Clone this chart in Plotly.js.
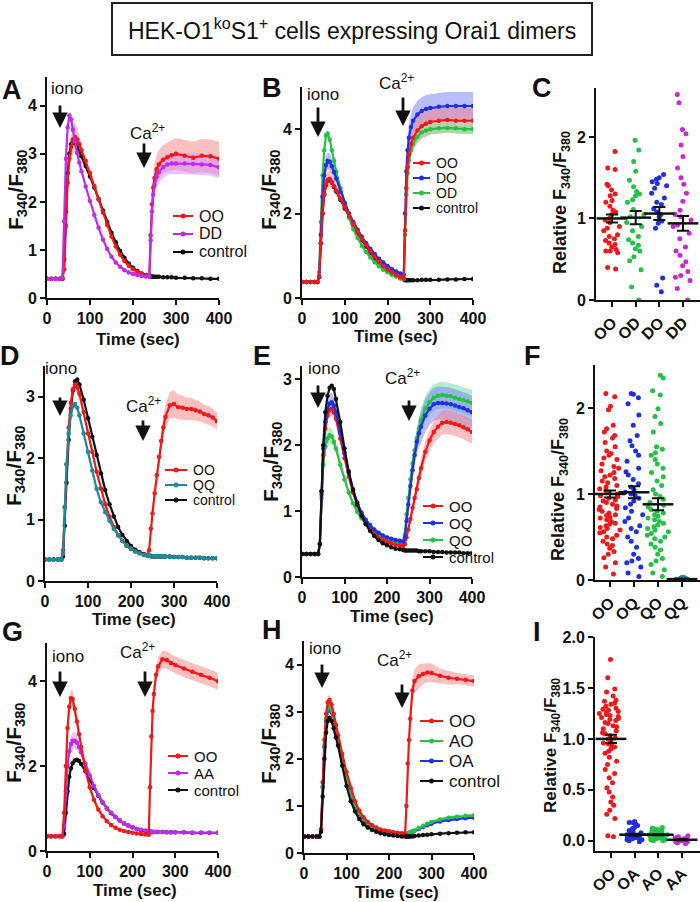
<!DOCTYPE html>
<html><head><meta charset="utf-8">
<script src="https://cdn.plot.ly/plotly-3.0.1.min.js"></script>
<style>html,body{margin:0;padding:0;background:#fff}#chart{width:700px;height:902px}</style>
</head><body><div id="chart"></div>
<script>
// ---------- DATA ----------
const timeTicks = [0, 100, 200, 300, 400];
const time1 = [0,10,20,30,36,40,44,48,52,56,60,65,70,75,80,90,100,110,120,130,140,150,160,170,180,190,200,210,220,230,238,241,244,247,250,255,260,270,280,290,300,320,340,360,380,400];
const time2 = [0,10,20,30,38,42,46,50,55,60,65,70,75,80,90,100,110,120,130,140,150,160,170,180,190,200,210,220,230,238,242,246,250,255,260,265,270,275,280,290,300,310,320,330,340,350,360,370,380,390,400];

// Panel A
const A_OO = [0.4,0.4,0.4,0.4,0.4, 0.6,1.5,2.4,2.9,3.15,3.3,3.35,3.3,3.2,3.08, 2.85,2.6,2.33,2.05,1.78,1.52,1.28,1.07,0.9,0.77,0.67,0.6,0.54,0.5,0.47,0.45, 1.3,1.95,2.3,2.5,2.68,2.78,2.88,2.93,2.97,3.0,2.96,2.92,2.96,2.95,2.9];
const A_OO_err = [0,0,0,0,0, 0.05,0.1,0.15,0.2,0.25,0.3,0.3,0.25,0.2,0.12, 0.1,0.08,0.07,0.06,0.05,0.04,0.03,0.03,0.02,0.02,0.02,0.02,0.02,0.02,0.02,0.02, 0.3,0.3,0.3,0.3,0.3,0.3,0.3,0.3,0.32,0.33,0.33,0.33,0.35,0.35,0.35];
const A_DD = [0.4,0.4,0.4,0.4,0.42, 1.6,2.9,3.55,3.8,3.72,3.5,3.25,3.02,2.82,2.64, 2.32,2.02,1.73,1.46,1.22,1.02,0.86,0.74,0.65,0.58,0.53,0.5,0.48,0.46,0.45,0.45, 1.2,1.8,2.15,2.35,2.52,2.62,2.72,2.78,2.8,2.8,2.8,2.79,2.78,2.77,2.72];
const A_DD_err = [0,0,0,0,0, 0.05,0.1,0.1,0.1,0.1,0.08,0.07,0.06,0.05,0.05, 0.04,0.03,0.03,0.02,0.02,0.02,0.02,0.02,0.02,0.02,0.02,0.02,0.02,0.02,0.02,0.02, 0.2,0.2,0.2,0.22,0.22,0.22,0.22,0.22,0.22,0.22,0.22,0.22,0.22,0.22,0.22];
const A_ctrl = [0.4,0.4,0.4,0.4,0.4, 0.8,1.8,2.6,3.0,3.2,3.25,3.22,3.15,3.05,2.95, 2.75,2.53,2.3,2.06,1.82,1.58,1.36,1.16,0.98,0.84,0.72,0.63,0.56,0.51,0.48,0.46, 0.45,0.45,0.44,0.44,0.44,0.44,0.43,0.43,0.43,0.42,0.42,0.41,0.41,0.4,0.4];

// Panel B
const B_OO = [0.38,0.38,0.38,0.38,0.38, 0.5,1.3,2.0,2.45,2.7,2.8,2.82,2.75,2.65,2.55, 2.35,2.15,1.95,1.75,1.57,1.4,1.25,1.1,0.97,0.86,0.76,0.68,0.61,0.55,0.5,0.47, 1.6,2.6,3.1,3.4,3.65,3.8,3.97,4.07,4.13,4.17,4.2,4.22,4.2,4.2,4.2];
const B_OO_err = [0,0,0,0,0, 0.02,0.08,0.12,0.15,0.18,0.2,0.2,0.18,0.15,0.13, 0.1,0.08,0.07,0.06,0.05,0.05,0.04,0.04,0.03,0.03,0.03,0.03,0.03,0.03,0.03,0.03, 0.2,0.25,0.25,0.28,0.28,0.3,0.3,0.3,0.3,0.3,0.3,0.3,0.3,0.3,0.3];
const B_DO = [0.38,0.38,0.38,0.38,0.38, 0.5,1.5,2.4,2.9,3.15,3.25,3.22,3.12,2.98,2.83, 2.52,2.25,2.0,1.8,1.62,1.45,1.3,1.16,1.04,0.93,0.84,0.76,0.69,0.63,0.58,0.55, 2.0,3.0,3.5,3.8,4.05,4.2,4.35,4.43,4.48,4.5,4.53,4.55,4.55,4.55,4.55];
const B_DO_err = [0,0,0,0,0, 0.02,0.1,0.15,0.18,0.2,0.2,0.2,0.18,0.15,0.13, 0.1,0.09,0.08,0.07,0.06,0.05,0.05,0.04,0.04,0.04,0.03,0.03,0.03,0.03,0.03,0.03, 0.25,0.3,0.3,0.32,0.32,0.32,0.33,0.33,0.33,0.33,0.33,0.33,0.33,0.33,0.33];
const B_OD = [0.38,0.38,0.38,0.38,0.38, 0.6,1.8,2.9,3.5,3.85,3.9,3.75,3.5,3.25,3.0, 2.6,2.22,1.9,1.63,1.42,1.24,1.09,0.96,0.85,0.75,0.67,0.61,0.55,0.51,0.47,0.45, 1.5,2.45,2.95,3.25,3.5,3.65,3.82,3.92,3.97,4.0,4.02,4.03,4.02,4.0,4.0];
const B_OD_err = [0,0,0,0,0, 0.02,0.05,0.08,0.08,0.08,0.08,0.08,0.07,0.06,0.05, 0.05,0.04,0.04,0.03,0.03,0.03,0.03,0.02,0.02,0.02,0.02,0.02,0.02,0.02,0.02,0.02, 0.1,0.12,0.12,0.12,0.12,0.12,0.12,0.12,0.12,0.12,0.12,0.12,0.12,0.12,0.12];
const B_ctrl = [0.38,0.38,0.38,0.38,0.38, 0.5,1.3,2.0,2.45,2.68,2.78,2.8,2.73,2.63,2.53, 2.32,2.12,1.92,1.72,1.54,1.37,1.22,1.07,0.94,0.83,0.73,0.65,0.58,0.52,0.47,0.44, 0.42,0.42,0.42,0.42,0.42,0.42,0.42,0.43,0.43,0.43,0.43,0.44,0.44,0.45,0.45];

// Panel C
const catsC = ['OO', 'OD', 'DO', 'DD'];
const C_OO = [1.82,1.62,1.6,1.42,1.4,1.35,1.3,1.28,1.22,1.2,1.15,1.1,1.08,1.05,1.0,0.98,0.95,0.9,0.88,0.85,0.8,0.78,0.75,0.73,0.7,0.68,0.65,0.62,0.6,0.6,0.58,0.4,0.38];
const C_OD = [1.96,1.84,1.7,1.58,1.47,1.39,1.33,1.3,1.28,1.23,1.2,1.11,1.05,1.02,0.95,0.9,0.85,0.78,0.74,0.7,0.67,0.63,0.6,0.53,0.48,0.37,0.16,0.0];
const C_DO = [1.54,1.5,1.48,1.45,1.43,1.4,1.37,1.31,1.25,1.2,1.17,1.12,1.08,1.05,1.02,0.97,0.94,0.88,0.27,0.18,0.1];
const C_DD = [2.52,2.42,2.09,2.04,1.9,1.76,1.62,1.5,1.42,1.31,1.21,1.1,1.05,1.02,0.98,0.92,0.9,0.82,0.75,0.65,0.6,0.55,0.47,0.42,0.35,0.3,0.28,0.24,0.14,0.0];
const C_mean = [1.0, 1.01, 1.06, 0.94];
const C_sem = [0.05, 0.08, 0.08, 0.09];

// Panel D
const D_OO = [0.35,0.35,0.35,0.35,0.35, 0.5,1.2,1.9,2.5,2.9,3.12,3.2,3.15,3.05, 2.75,2.4,2.1,1.78,1.5,1.25,1.05,0.88,0.75,0.65,0.57,0.52,0.48,0.45,0.43, 0.42, 0.5,0.85,1.1,1.43,1.72,2.02,2.28,2.5,2.67, 2.86,2.88,2.83,2.82,2.8,2.8,2.78,2.76,2.72,2.7,2.66,2.6];
const D_OO_err = [0,0,0,0,0, 0.02,0.05,0.08,0.1,0.1,0.1,0.1,0.1,0.08, 0.07,0.06,0.05,0.05,0.04,0.03,0.03,0.03,0.02,0.02,0.02,0.02,0.02,0.02,0.02, 0.02, 0.05,0.08,0.1,0.12,0.13,0.15,0.16,0.18,0.2, 0.22,0.22,0.2,0.2,0.18,0.18,0.17,0.16,0.15,0.15,0.14,0.14];
const D_QQ = [0.35,0.35,0.35,0.35,0.35, 0.45,1.2,1.9,2.4,2.7,2.85,2.88,2.82,2.7, 2.4,2.1,1.8,1.5,1.28,1.12,0.98,0.85,0.74,0.65,0.58,0.53,0.48,0.45,0.42, 0.41, 0.41,0.4,0.4,0.4,0.4,0.4,0.4,0.4,0.4, 0.39,0.39,0.39,0.39,0.38,0.38,0.38,0.38,0.37,0.37,0.37,0.37];
const D_ctrl = [0.35,0.35,0.35,0.35,0.35, 0.4,0.9,1.6,2.3,2.8,3.1,3.25,3.28,3.2, 2.95,2.65,2.35,2.05,1.75,1.48,1.25,1.05,0.88,0.75,0.65,0.57,0.51,0.47,0.44, 0.42, 0.41,0.41,0.4,0.4,0.4,0.4,0.4,0.4,0.4, 0.4,0.39,0.39,0.39,0.38,0.38,0.38,0.38,0.37,0.37,0.37,0.37];

// Panel E
const E_OO = [0.35,0.35,0.35,0.35,0.35, 0.5,1.25,1.85,2.25,2.45,2.53,2.55,2.5,2.4, 2.1,1.8,1.52,1.28,1.09,0.94,0.82,0.73,0.66,0.6,0.56,0.53,0.51,0.49,0.48, 0.47, 0.5,0.6,0.72,0.88,1.05,1.2,1.33,1.5,1.65, 1.9,2.07,2.2,2.28,2.34,2.35,2.34,2.32,2.3,2.27,2.24,2.2];
const E_OO_err = [0,0,0,0,0, 0.02,0.05,0.08,0.1,0.1,0.1,0.1,0.08,0.07, 0.06,0.05,0.04,0.04,0.03,0.03,0.03,0.03,0.02,0.02,0.02,0.02,0.02,0.02,0.02, 0.02, 0.03,0.05,0.07,0.08,0.1,0.1,0.12,0.13,0.14, 0.15,0.16,0.17,0.18,0.18,0.18,0.18,0.18,0.18,0.18,0.18,0.18];
const E_OQ = [0.35,0.35,0.35,0.35,0.35, 0.5,1.3,1.95,2.35,2.55,2.63,2.65,2.6,2.5, 2.2,1.88,1.58,1.33,1.13,0.98,0.87,0.79,0.72,0.67,0.63,0.6,0.58,0.56,0.55, 0.54, 0.6,0.85,1.1,1.38,1.62,1.85,2.05,2.18,2.28, 2.45,2.55,2.62,2.64,2.64,2.63,2.62,2.6,2.58,2.56,2.53,2.5];
const E_OQ_err = [0,0,0,0,0, 0.02,0.06,0.1,0.12,0.14,0.15,0.15,0.12,0.1, 0.08,0.06,0.05,0.04,0.04,0.03,0.03,0.03,0.03,0.03,0.03,0.03,0.03,0.03,0.03, 0.03, 0.05,0.08,0.1,0.12,0.15,0.18,0.2,0.22,0.23, 0.25,0.25,0.25,0.25,0.25,0.25,0.25,0.25,0.25,0.25,0.25,0.25];
const E_QO = [0.35,0.35,0.35,0.35,0.35, 0.5,1.2,1.7,1.98,2.1,2.15,2.13,2.05,1.95, 1.7,1.48,1.28,1.12,0.99,0.89,0.81,0.74,0.69,0.64,0.6,0.57,0.55,0.53,0.52, 0.52, 0.65,0.95,1.2,1.48,1.72,1.92,2.1,2.25,2.38, 2.55,2.65,2.72,2.75,2.76,2.75,2.74,2.72,2.7,2.68,2.66,2.64];
const E_QO_err = [0,0,0,0,0, 0.02,0.05,0.08,0.1,0.12,0.12,0.12,0.1,0.08, 0.06,0.05,0.04,0.04,0.03,0.03,0.03,0.03,0.03,0.03,0.03,0.03,0.03,0.03,0.03, 0.03, 0.05,0.08,0.1,0.12,0.14,0.15,0.16,0.17,0.18, 0.2,0.2,0.2,0.2,0.2,0.2,0.2,0.2,0.2,0.2,0.2,0.2];
const E_ctrl = [0.35,0.35,0.35,0.35,0.35, 0.5,1.3,2.0,2.5,2.75,2.87,2.9,2.85,2.7, 2.35,1.95,1.6,1.32,1.1,0.93,0.8,0.7,0.62,0.56,0.51,0.48,0.45,0.43,0.42, 0.41, 0.4,0.4,0.4,0.4,0.4,0.4,0.4,0.39,0.39, 0.39,0.39,0.38,0.38,0.38,0.37,0.37,0.37,0.37,0.36,0.36,0.36];

// Panel F
const catsF = ['OO', 'OQ', 'QO', 'QQ'];
const F_OO = [2.17,2.13,2.02,1.98,1.8,1.76,1.72,1.68,1.65,1.6,1.55,1.5,1.47,1.45,1.42,1.4,1.35,1.32,1.3,1.27,1.25,1.22,1.2,1.18,1.15,1.13,1.1,1.08,1.06,1.04,1.02,1.0,0.98,0.97,0.95,0.93,0.92,0.9,0.88,0.86,0.85,0.83,0.82,0.8,0.78,0.76,0.75,0.73,0.72,0.7,0.68,0.66,0.65,0.63,0.61,0.6,0.58,0.56,0.55,0.52,0.5,0.48,0.45,0.42,0.4,0.37,0.33,0.3,0.26,0.2,0.15,0.07];
const F_OQ = [2.17,2.16,2.12,2.05,1.92,1.8,1.68,1.62,1.56,1.5,1.45,1.38,1.3,1.26,1.22,1.17,1.12,1.08,1.05,1.02,1.0,0.98,0.95,0.92,0.88,0.84,0.8,0.76,0.72,0.68,0.63,0.6,0.56,0.5,0.45,0.38,0.3,0.25,0.22,0.2,0.15,0.08,0.04];
const F_QO = [2.38,2.35,2.2,2.15,1.99,1.9,1.82,1.72,1.55,1.52,1.48,1.45,1.4,1.35,1.3,1.25,1.2,1.15,1.1,1.05,1.0,0.97,0.94,0.9,0.87,0.85,0.82,0.8,0.78,0.76,0.74,0.72,0.7,0.68,0.66,0.64,0.62,0.6,0.58,0.56,0.54,0.52,0.5,0.48,0.45,0.42,0.38,0.35,0.3,0.25,0.22,0.18,0.12,0.08,0.04];
const F_QQ = [0.03,0.02,0.01,0.0,0.02,0.01,0.0,0.03];
const F_mean = [1.0, 1.02, 0.88, 0.01];
const F_sem = [0.04, 0.07, 0.07, 0.005];

// Panel G
const G_OO = [0.35,0.35,0.35,0.35,0.35, 0.9,2.0,2.9,3.4,3.6,3.58,3.35,3.05,2.75,2.45, 1.9,1.5,1.2,0.98,0.82,0.7,0.61,0.55,0.5,0.47,0.45,0.43,0.41,0.4,0.39,0.38, 1.5,2.7,3.3,3.7,4.15,4.35,4.52,4.5,4.43,4.38,4.3,4.22,4.15,4.08,4.0];
const G_OO_err = [0,0,0,0,0, 0.05,0.1,0.15,0.18,0.2,0.2,0.18,0.15,0.12,0.1, 0.08,0.06,0.05,0.04,0.03,0.03,0.02,0.02,0.02,0.02,0.02,0.02,0.02,0.02,0.02,0.02, 0.1,0.15,0.15,0.18,0.18,0.2,0.2,0.2,0.2,0.2,0.2,0.2,0.2,0.2,0.2];
const G_AA = [0.35,0.35,0.35,0.35,0.35, 0.6,1.4,2.0,2.35,2.52,2.6,2.6,2.55,2.45,2.32, 2.05,1.78,1.53,1.32,1.15,1.01,0.9,0.8,0.72,0.66,0.6,0.56,0.52,0.5,0.48,0.46, 0.46,0.46,0.45,0.45,0.45,0.45,0.45,0.44,0.44,0.44,0.44,0.43,0.43,0.43,0.43];
const G_AA_err = [0,0,0,0,0, 0.05,0.1,0.15,0.18,0.2,0.2,0.2,0.18,0.15,0.12, 0.1,0.08,0.06,0.05,0.04,0.03,0.03,0.02,0.02,0.02,0.02,0.02,0.02,0.02,0.02,0.02, 0.02,0.02,0.02,0.02,0.02,0.02,0.02,0.02,0.02,0.02,0.02,0.02,0.02,0.02,0.02];
const G_ctrl = [0.35,0.35,0.35,0.35,0.35, 0.4,0.9,1.4,1.75,1.95,2.07,2.13,2.15,2.12,2.05, 1.88,1.68,1.48,1.3,1.14,1.0,0.89,0.8,0.72,0.65,0.6,0.56,0.52,0.49,0.47,0.46, 0.45,0.45,0.45,0.45,0.45,0.45,0.45,0.44,0.44,0.44,0.44,0.43,0.43,0.43,0.43];

// Panel H
const H_OO = [0.35,0.35,0.35,0.35,0.35, 0.5,1.5,2.4,2.95,3.2,3.25,3.15,2.95,2.72,2.5, 2.1,1.72,1.38,1.1,0.9,0.76,0.66,0.59,0.54,0.5,0.48,0.46,0.44,0.43,0.42,0.41, 1.0,1.9,2.4,2.85,3.45,3.65,3.75,3.8,3.83,3.82,3.76,3.72,3.7,3.68,3.65];
const H_OO_err = [0,0,0,0,0, 0.02,0.05,0.08,0.1,0.12,0.12,0.1,0.08,0.07,0.06, 0.05,0.04,0.03,0.03,0.02,0.02,0.02,0.02,0.02,0.02,0.02,0.02,0.02,0.02,0.02,0.02, 0.1,0.15,0.2,0.22,0.25,0.25,0.25,0.22,0.2,0.2,0.15,0.15,0.12,0.12,0.12];
const H_AO = [0.35,0.35,0.35,0.35,0.35, 0.5,1.4,2.3,2.85,3.08,3.12,3.02,2.82,2.6,2.38, 1.98,1.6,1.28,1.03,0.85,0.72,0.63,0.56,0.51,0.48,0.46,0.44,0.42,0.41,0.4,0.4, 0.41,0.42,0.43,0.44,0.46,0.48,0.53,0.58,0.62,0.66,0.71,0.75,0.77,0.79,0.8];
const H_AO_err = [0,0,0,0,0, 0.02,0.04,0.05,0.05,0.05,0.05,0.05,0.05,0.04,0.04, 0.03,0.03,0.03,0.03,0.03,0.03,0.03,0.03,0.03,0.03,0.03,0.03,0.03,0.03,0.03,0.03, 0.02,0.02,0.02,0.02,0.03,0.03,0.03,0.03,0.04,0.04,0.04,0.04,0.04,0.04,0.04];
const H_OA = [0.35,0.35,0.35,0.35,0.35, 0.5,1.4,2.25,2.8,3.02,3.05,2.98,2.78,2.56,2.34, 1.94,1.57,1.26,1.01,0.83,0.7,0.61,0.55,0.5,0.47,0.45,0.43,0.42,0.41,0.4,0.4, 0.4,0.41,0.42,0.43,0.45,0.47,0.51,0.55,0.59,0.62,0.67,0.7,0.72,0.74,0.75];
const H_ctrl = [0.35,0.35,0.35,0.35,0.35, 0.45,1.2,2.0,2.55,2.8,2.87,2.8,2.65,2.45,2.28, 1.85,1.42,1.1,0.88,0.72,0.61,0.54,0.49,0.45,0.42,0.4,0.38,0.37,0.36,0.35,0.35, 0.35,0.35,0.35,0.35,0.35,0.36,0.37,0.38,0.39,0.4,0.41,0.42,0.43,0.44,0.44];

// Panel I
const catsI = ['OO', 'OA', 'AO', 'AA'];
const I_OO = [1.78,1.6,1.49,1.46,1.42,1.38,1.37,1.35,1.34,1.32,1.3,1.29,1.28,1.27,1.26,1.25,1.24,1.23,1.22,1.21,1.2,1.19,1.18,1.16,1.15,1.13,1.12,1.1,1.08,1.06,1.05,1.03,1.01,1.0,0.98,0.96,0.95,0.93,0.92,0.9,0.88,0.86,0.82,0.78,0.75,0.7,0.66,0.62,0.57,0.52,0.48,0.43,0.38,0.35,0.3,0.26,0.22,0.05,0.04];
const I_OA = [0.19,0.18,0.18,0.17,0.15,0.13,0.12,0.1,0.09,0.08,0.07,0.06,0.06,0.05,0.05,0.04,0.04,0.03,0.03,0.02,0.02,0.01,0.01,0.0,-0.01];
const I_AO = [0.13,0.12,0.12,0.11,0.1,0.1,0.09,0.09,0.08,0.08,0.07,0.07,0.07,0.06,0.06,0.06,0.05,0.05,0.05,0.04,0.04,0.04,0.03,0.03,0.03,0.02,0.02,0.01,0.01,0.0,0.0];
const I_AA = [0.05,0.04,0.03,0.03,0.02,0.02,0.01,0.01,0.01,0.0,0.0,0.0,-0.01,-0.01,-0.02,-0.03];
const I_mean = [1.0, 0.06, 0.06, 0.01];
const I_sem = [0.04, 0.01, 0.005, 0.005];

const legendA = ['OO', 'DD', 'control'];
const legendB = ['OO', 'DO', 'OD', 'control'];
const legendD = ['OO', 'QQ', 'control'];
const legendE = ['OO', 'OQ', 'QO', 'control'];
const legendG = ['OO', 'AA', 'control'];
const legendH = ['OO', 'AO', 'OA', 'control'];

// ---------- STYLE ----------
const W = 700, H = 902;
const px = v => v / W, py = v => 1 - v / H;
const FONT = 'Liberation Sans, Arial, sans-serif';
const RED = '#f01818', RED_B = 'rgba(246,130,130,0.5)';
const PUR = '#bb2cf0', PUR_B = 'rgba(210,140,250,0.5)';
const BLUE = '#2030e0', BLUE_B = 'rgba(125,135,250,0.55)';
const GREEN = '#25c045', GREEN_B = 'rgba(100,225,150,0.5)';
const TEAL = '#1b8a9a', BLACK = '#111', MAG = '#c82ad2';

const data = [];
const s = n => (n === 1 ? '' : String(n));
function band(n, t, y, e, fill) {
  const ax = {xaxis: 'x' + s(n), yaxis: 'y' + s(n), hoverinfo: 'skip', showlegend: false, mode: 'lines'};
  data.push(Object.assign({type: 'scatter', x: t, y: y.map((v, i) => v + e[i]), line: {width: 0, color: fill}}, ax));
  data.push(Object.assign({type: 'scatter', x: t, y: y.map((v, i) => v - e[i]), line: {width: 0, color: fill}, fill: 'tonexty', fillcolor: fill}, ax));
}
function curve(n, t, y, color) {
  data.push({type: 'scatter', x: t, y: y, xaxis: 'x' + s(n), yaxis: 'y' + s(n), mode: 'lines+markers',
    line: {color: color, width: 2.2}, marker: {color: color, size: 4.5}, hoverinfo: 'skip', showlegend: false});
}
function dots(n, i, vals, color, width) {
  data.push({type: 'box', x0: i, y: vals, xaxis: 'x' + s(n), yaxis: 'y' + s(n), boxpoints: 'all', jitter: 1, pointpos: 0,
    width: width, fillcolor: 'rgba(0,0,0,0)', line: {width: 0, color: 'rgba(0,0,0,0)'},
    marker: {color: color, size: 5}, hoverinfo: 'skip', showlegend: false});
}
function meanbar(n, cats, means, sems) {
  data.push({type: 'scatter', x: cats.map((c, i) => i), y: means, xaxis: 'x' + s(n), yaxis: 'y' + s(n), mode: 'markers',
    marker: {symbol: 'line-ew', size: 22, color: BLACK, line: {width: 2.5, color: BLACK}},
    error_y: {type: 'data', array: sems, visible: true, color: BLACK, thickness: 2, width: 6},
    hoverinfo: 'skip', showlegend: false});
}

// A
band(1, time1, A_OO, A_OO_err, RED_B); band(1, time1, A_DD, A_DD_err, PUR_B);
curve(1, time1, A_ctrl, BLACK); curve(1, time1, A_OO, RED); curve(1, time1, A_DD, PUR);
// B
band(2, time1, B_DO, B_DO_err, BLUE_B); band(2, time1, B_OO, B_OO_err, RED_B); band(2, time1, B_OD, B_OD_err, GREEN_B);
curve(2, time1, B_ctrl, BLACK); curve(2, time1, B_OD, GREEN); curve(2, time1, B_DO, BLUE); curve(2, time1, B_OO, RED);
// C
dots(3, 0, C_OO, RED, 0.85); dots(3, 1, C_OD, GREEN, 0.85); dots(3, 2, C_DO, BLUE, 0.8); dots(3, 3, C_DD, MAG, 0.85);
meanbar(3, catsC, C_mean, C_sem);
// D
band(4, time2, D_OO, D_OO_err, RED_B);
curve(4, time2, D_ctrl, BLACK); curve(4, time2, D_OO, RED); curve(4, time2, D_QQ, TEAL);
// E
band(5, time2, E_QO, E_QO_err, GREEN_B); band(5, time2, E_OQ, E_OQ_err, BLUE_B); band(5, time2, E_OO, E_OO_err, RED_B);
curve(5, time2, E_QO, GREEN); curve(5, time2, E_OO, RED); curve(5, time2, E_OQ, BLUE); curve(5, time2, E_ctrl, BLACK);
// F
dots(6, 0, F_OO, RED, 1.0); dots(6, 1, F_OQ, BLUE, 0.9); dots(6, 2, F_QO, GREEN, 1.0); dots(6, 3, F_QQ, TEAL, 0.6);
meanbar(6, catsF, F_mean, F_sem);
// G
band(7, time1, G_OO, G_OO_err, RED_B); band(7, time1, G_AA, G_AA_err, PUR_B);
curve(7, time1, G_ctrl, BLACK); curve(7, time1, G_AA, PUR); curve(7, time1, G_OO, RED);
// H
band(8, time1, H_OO, H_OO_err, RED_B); band(8, time1, H_AO, H_AO_err, GREEN_B);
curve(8, time1, H_OA, BLUE); curve(8, time1, H_AO, GREEN); curve(8, time1, H_OO, RED); curve(8, time1, H_ctrl, BLACK);
// I
dots(9, 0, I_OO, RED, 1.0); dots(9, 1, I_OA, BLUE, 0.85); dots(9, 2, I_AO, GREEN, 0.85); dots(9, 3, I_AA, MAG, 0.7);
meanbar(9, catsI, I_mean, I_sem);

// ---------- LAYOUT ----------
function base() {
  return {showline: true, linecolor: BLACK, linewidth: 2, ticks: 'outside', ticklen: 5, tickwidth: 2, tickcolor: BLACK,
    showgrid: false, zeroline: false, fixedrange: true,
    tickfont: {family: FONT, size: 16, color: BLACK, weight: 'bold'}};
}
const layout = {width: W, height: H, margin: {l: 0, r: 0, t: 0, b: 0}, paper_bgcolor: '#fff', plot_bgcolor: '#fff',
  showlegend: false, annotations: [], shapes: []};
function timePanel(n, x0, x1, yb, yt, yr, yt_vals) {
  layout['xaxis' + s(n)] = Object.assign(base(), {domain: [px(x0), px(x1)], range: [0, 400], tickvals: timeTicks, anchor: 'y' + s(n)});
  layout['yaxis' + s(n)] = Object.assign(base(), {domain: [py(yb), py(yt)], range: yr, tickvals: yt_vals, anchor: 'x' + s(n)});
}
function catPanel(n, x0, x1, xr, yb, yt, yr, yt_vals, cats, ytext) {
  layout['xaxis' + s(n)] = Object.assign(base(), {domain: [px(x0), px(x1)], range: xr, tickvals: cats.map((c, i) => i), ticktext: cats, tickangle: -45, anchor: 'y' + s(n)});
  layout['yaxis' + s(n)] = Object.assign(base(), {domain: [py(yb), py(yt)], range: yr, tickvals: yt_vals, anchor: 'x' + s(n)});
  if (ytext) layout['yaxis' + s(n)].ticktext = ytext;
}
timePanel(1, 47, 219, 298, 77, [0, 4.6], [0, 1, 2, 3, 4]);
timePanel(2, 302, 473, 298, 87, [0, 5], [0, 2, 4]);
catPanel(3, 596, 700, [-0.68, 3.72], 300, 88, [0, 2.6], [0, 1, 2], catsC);
timePanel(4, 45, 217, 581, 366, [0, 3.5], [0, 1, 2, 3]);
timePanel(5, 302, 472, 577, 366, [0, 3.2], [0, 1, 2, 3]);
catPanel(6, 595, 700, [-0.625, 3.75], 580, 365, [0, 2.5], [0, 1, 2], catsF);
timePanel(7, 47, 218, 851, 643, [0, 4.9], [0, 2, 4]);
timePanel(8, 304, 474, 853, 641, [0, 4.5], [0, 1, 2, 3, 4]);
catPanel(9, 595, 700, [-0.676, 3.76], 851, 637, [-0.1, 2.0], [0, 0.5, 1, 1.5, 2], catsI, ['0.0', '0.5', '1.0', '1.5', '2.0']);

const A = layout.annotations, S = layout.shapes;
function txt(x, y, text, size, opts) {
  A.push(Object.assign({xref: 'paper', yref: 'paper', x: px(x), y: py(y), text: text, showarrow: false,
    xanchor: 'center', yanchor: 'middle', font: {family: FONT, size: size, color: BLACK}}, opts || {}));
}
function arrow(x, yTail, yTip) {
  A.push({xref: 'paper', yref: 'paper', x: px(x), y: py(yTip), ax: 0, ay: -(yTip - yTail), text: '', showarrow: true,
    arrowhead: 2, arrowsize: 1.1, arrowwidth: 2.8, arrowcolor: BLACK});
}
function legend(x0, x1, ys, labels, colors, size) {
  labels.forEach((lab, i) => {
    const y = ys[i];
    S.push({type: 'line', xref: 'paper', yref: 'paper', x0: px(x0), x1: px(x1), y0: py(y), y1: py(y), line: {color: colors[i], width: 2}});
    const cx = (x0 + x1) / 2;
    S.push({type: 'circle', xref: 'paper', yref: 'paper', x0: px(cx - 2.5), x1: px(cx + 2.5), y0: py(y + 2.5), y1: py(y - 2.5), fillcolor: colors[i], line: {width: 0}});
    txt(x1 + 5, y, lab, size, {xanchor: 'left', borderpad: 0});
  });
}

// Title box
S.push({type: 'rect', xref: 'paper', yref: 'paper', x0: px(112), x1: px(592), y0: py(55), y1: py(3), line: {color: '#222', width: 2}});
txt(352, 29, 'HEK-O1<sup>ko</sup>S1<sup>+</sup> cells expressing Orai1 dimers', 23);

// Panel letters
const bold = {font: {family: FONT, size: 27, color: BLACK, weight: 'bold'}};
[['A', 12, 90], ['B', 272, 88], ['C', 542, 88], ['D', 10, 356], ['E', 262, 356], ['F', 532, 356], ['G', 12, 632], ['H', 272, 630], ['I', 537, 632]]
  .forEach(l => txt(l[1], l[2], l[0], 27, bold));

// Axis titles
const ytitle = 'F<sub>340</sub>/F<sub>380</sub>';
const rel = 'Relative F<sub>340</sub>/F<sub>380</sub>';
const tb = sz => ({textangle: -90, font: {family: FONT, size: sz, color: BLACK, weight: 'bold'}});
txt(17, 190, ytitle, 21, tb(21)); txt(270, 190, ytitle, 21, tb(21)); txt(561, 203, rel, 18, tb(18));
txt(15, 466, ytitle, 21, tb(21)); txt(272, 462, ytitle, 21, tb(21)); txt(559, 490, rel, 18, tb(18));
txt(15, 743, ytitle, 21, tb(21)); txt(270, 744, ytitle, 21, tb(21)); txt(552, 746, rel, 17, tb(17));
const xb = {font: {family: FONT, size: 17, color: BLACK, weight: 'bold'}};
txt(138, 339, 'Time (sec)', 17, xb); txt(396, 337, 'Time (sec)', 17, xb);
txt(134, 619, 'Time (sec)', 17, xb); txt(392, 616, 'Time (sec)', 17, xb);
txt(135, 890, 'Time (sec)', 17, xb); txt(397, 892, 'Time (sec)', 17, xb);

// iono / Ca2+ labels and arrows
const ca = 'Ca<sup>2+</sup>';
txt(67, 89, 'iono', 17); arrow(60, 104, 128); txt(147, 132, ca, 17); arrow(144, 142, 168);
txt(323, 94, 'iono', 17); arrow(318, 106, 137); txt(396, 82, ca, 17); arrow(403, 96, 126);
txt(61, 368, 'iono', 17); arrow(60, 396, 416); txt(143, 405, ca, 17); arrow(143, 419, 441);
txt(324, 368, 'iono', 17); arrow(318, 384, 408); txt(402, 377, ca, 17); arrow(409, 399, 421);
txt(68, 656, 'iono', 17); arrow(60, 670, 697); txt(137, 651, ca, 17); arrow(145, 670, 697);
txt(325, 648, 'iono', 17); arrow(322, 663, 688); txt(394, 659, ca, 17); arrow(402, 683, 708);

// legends
legend(173, 193, [216, 234, 252], legendA, [RED, PUR, BLACK], 16);
legend(413, 430, [163, 178, 193, 208], legendB, [RED, BLUE, GREEN, BLACK], 14);
legend(165, 187, [470, 485, 500], legendD, [RED, TEAL, BLACK], 14);
legend(423, 443, [506, 523, 540, 557], legendE, [RED, BLUE, GREEN, BLACK], 15);
legend(168, 188, [756, 773, 790], legendG, [RED, PUR, BLACK], 15);
legend(420, 443, [721, 741, 761, 781], legendH, [RED, GREEN, BLUE, BLACK], 17);

Plotly.newPlot('chart', data, layout, {staticPlot: true, displayModeBar: false});
</script></body></html>
